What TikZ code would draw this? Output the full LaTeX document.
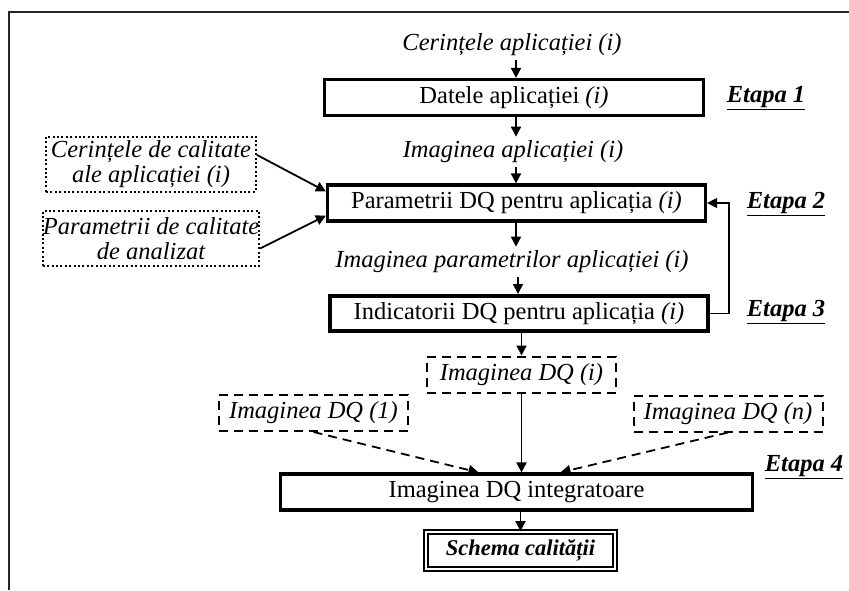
\documentclass[tikz,border=0pt]{standalone}
\usepackage{fontspec}
\setmainfont{Liberation Serif}
\usetikzlibrary{shapes,arrows,arrows.meta,positioning,calc}

\begin{document}
\begin{tikzpicture}[x = 1pt, y = -1pt, > = {Triangle[length = 10pt, width = 10pt]}, font = \fontsize{24.5}{26}\selectfont, line width = 1.8pt]
    \tikzset{
      block/.style = {draw, line width = 3.2pt, minimum height = 36pt, inner sep = 0pt},
      flowtext/.style = {font = \fontsize{24.5}{26}\selectfont\itshape},
      dqimg/.style = {draw, dash pattern = on 9pt off 6pt, line width = 2pt, minimum width = 189pt, minimum height = 36pt, inner sep = 0pt, font = \fontsize{24.5}{26}\selectfont\itshape},
      quality/.style = {draw, dash pattern = on 2pt off 2.4pt, line width = 2pt, minimum width = 210pt, minimum height = 55pt, inner sep = 0pt, align = center, font = \fontsize{24.5}{25}\selectfont\itshape},
      schema/.style = {draw, double, line width = 1.8pt, double distance = 2.6pt, minimum width = 189pt, minimum height = 37pt, inner sep = 0pt, font = \fontsize{22.5}{24}\selectfont\bfseries\itshape},
      stage/.style = {font = \fontsize{24.5}{26}\selectfont\bfseries\itshape},
    }
    \useasboundingbox (0, 0) rectangle (849, 590);

    % cropped frame
    \draw [line width = 1.6pt, black!85] (9, 590) -- (9, 12) -- (849, 12);

    \node [flowtext] (appreq) at (512, 45) {Cerințele aplicației (i)};
    \node [block, minimum width = 379pt] (data) at (514, 97.5) {Datele aplicației \textit{(i)}};
    \node [flowtext] (appimg) at (513, 152) {Imaginea aplicației (i)};
    \node [block, minimum width = 378pt] (param) at (516.5, 203) {Parametrii DQ pentru aplicația \textit{(i)}};
    \node [flowtext] (paramimg) at (512, 262) {Imaginea parametrilor aplicației (i)};
    \node [block, line width = 4pt, minimum width = 378pt, minimum height = 35pt] (ind) at (519, 313.5) {Indicatorii DQ pentru aplicația \textit{(i)}};

    \node [quality] (qualreq) at (151, 164) {Cerințele de calitate\\ale aplicației (i)};
    \node [quality] (qualpar) at (151, 238.5) {Parametrii de calitate\\de analizat};

    \node [dqimg] (dqi) at (521.5, 374.5) {Imaginea DQ (i)};
    \node [dqimg] (dqone) at (313.5, 413) {Imaginea DQ (1)};
    \node [dqimg] (dqn) at (728, 413.5) {Imaginea DQ (n)};

    \node [block, minimum width = 472pt] (integ) at (516.5, 492) {Imaginea DQ integratoare};
    \node [schema] (scheme) at (520.5, 550.5) {Schema calității};

    \node [stage] (stage1) at (766, 98) {\underline{Etapa 1}};
    \node [stage] (stage2) at (786, 204) {\underline{Etapa 2}};
    \node [stage] (stage3) at (786, 312) {\underline{Etapa 3}};
    \node [stage] (stage4) at (804, 467) {\underline{Etapa 4}};

    \draw [->] (appreq.south -| 516, 0) -- (data.north -| 516, 0);
    \draw [->] (data.south -| 516, 0) -- (appimg.north -| 516, 0);
    \draw [->] (appimg.south -| 516, 0) -- (param.north -| 516, 0);
    \draw [->] (param.south -| 516, 0) -- (paramimg.north -| 516, 0);
    \draw [->] (paramimg.south -| 518, 0) -- (ind.north -| 518, 0);
    \draw [->] (ind.south -| dqi) -- (dqi);
    \draw [->] (dqi) -- (dqi |- integ.north);
    \draw [->, dash pattern = on 9pt off 6pt] (dqone.south) -- ($(integ.north) + (-38, 0)$);
    \draw [->, dash pattern = on 9pt off 6pt] (dqn.south) -- ($(integ.north) + (44, 0)$);
    \draw [->] (integ.south -| scheme) -- (scheme);

    \draw [->] ($(qualreq.east) + (0, -9)$) -- ($(param.north west) + (0, 8)$);
    \draw [->] ($(qualpar.east) + (0, 10)$) -- ($(param.south west) + (0, -7)$);

    \draw [->, line width = 1.2pt] (ind.east) -- ++(19, 0) |- (param.east);
  \end{tikzpicture}
\end{document}
